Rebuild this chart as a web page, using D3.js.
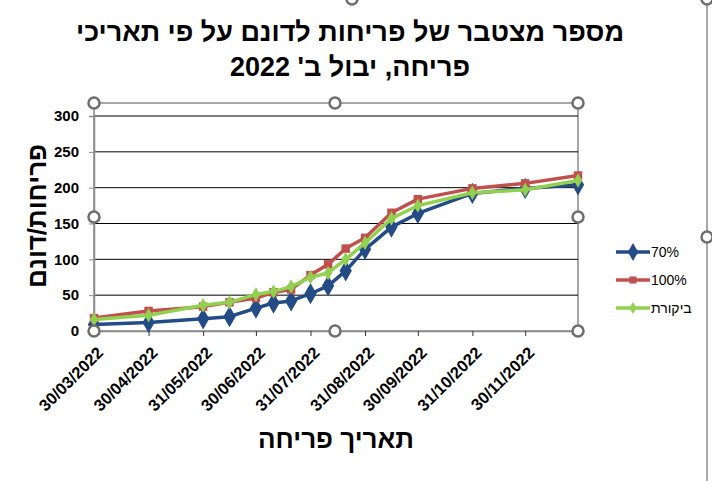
<!DOCTYPE html>
<html>
<head>
<meta charset="utf-8">
<script src="https://cdn.jsdelivr.net/npm/d3@7/dist/d3.min.js"></script>
<style>
  body { margin: 0; background: #fff; }
  text { font-family: "Liberation Sans", Arial, sans-serif; }
</style>
</head>
<body>
<div id="chart"></div>
<script>
// data
var dates = ["30/03/2022","30/04/2022","31/05/2022","15/06/2022","30/06/2022","10/07/2022","20/07/2022",
  "31/07/2022","10/08/2022","20/08/2022","31/08/2022","15/09/2022","30/09/2022","31/10/2022","30/11/2022","30/12/2022"];
var s70  = [9, 12, 17, 20, 32, 39, 42, 52, 63, 84, 114, 145, 164, 192, 199, 204];
var s100 = [18, 28, 34, 40, 46, 54, 58, 78, 93, 115, 130, 165, 184, 199, 206, 217];
var sCtl = [16, 22, 36, 40, 51, 55, 62, 75, 81, 100, 123, 157, 175, 193, 197, 210];
var seriesNames = ["70%", "100%", "ביקורת"];
var tickLabels = ["30/03/2022","30/04/2022","31/05/2022","30/06/2022","31/07/2022","31/08/2022","30/09/2022","31/10/2022","30/11/2022"];
var yTicks = [0, 50, 100, 150, 200, 250, 300];
var titleLines = ["מספר מצטבר של פריחות לדונם על פי תאריכי", "פריחה, יבול ב' 2022"];
var yTitle = "פריחות/דונם";
var xTitle = "תאריך פריחה";

var width = 712, height = 481;
var plot = {left: 94, right: 578, top: 103, bottom: 331};

var parse = d3.timeParse("%d/%m/%Y");
var fmt = d3.timeFormat("%d/%m/%Y");

var svg = d3.select("#chart").append("svg")
    .attr("width", width)
    .attr("height", height);

var x = d3.scaleTime()
    .domain([parse(dates[0]), parse(dates[dates.length - 1])])
    .range([plot.left, plot.right]);

var y = d3.scaleLinear()
    .domain([0, 300])
    .range([plot.bottom, 116]);

// chart area border (right side, selected)
svg.append("line")
    .attr("x1", 707).attr("x2", 707).attr("y1", 0).attr("y2", height)
    .attr("stroke", "#8a8a8a").attr("stroke-width", 1.5);

// plot area frame (selection)
svg.append("rect")
    .attr("x", plot.left).attr("y", plot.top)
    .attr("width", plot.right - plot.left).attr("height", plot.bottom - plot.top)
    .attr("fill", "none").attr("stroke", "#8a8a8a").attr("stroke-width", 1.5);

// gridlines
svg.append("g").selectAll("line")
    .data(yTicks.slice(1))
    .enter().append("line")
    .attr("x1", plot.left).attr("x2", plot.right)
    .attr("y1", d => y(d)).attr("y2", d => y(d))
    .attr("stroke", "#000").attr("stroke-width", 1);

// y axis
var yAxis = svg.append("g")
    .attr("transform", `translate(${plot.left},0)`)
    .call(d3.axisLeft(y).tickValues(yTicks).tickSize(5).tickPadding(10));
yAxis.select(".domain").attr("stroke", "#8a8a8a").attr("stroke-width", 1.5);
yAxis.selectAll(".tick line").attr("stroke", "#8a8a8a");
yAxis.selectAll("text")
    .attr("font-size", "15px").attr("font-weight", "bold")
    .attr("font-family", "'Liberation Sans', Arial, sans-serif").attr("fill", "#000");

// x axis
var xAxis = svg.append("g")
    .attr("transform", `translate(0,${plot.bottom})`)
    .call(d3.axisBottom(x).tickValues(tickLabels.map(parse)).tickFormat(fmt).tickSize(5));
xAxis.select(".domain").attr("stroke", "#8a8a8a").attr("stroke-width", 1.5);
xAxis.selectAll(".tick line").attr("stroke", "#333");
xAxis.selectAll("text")
    .attr("font-size", "16.5px").attr("font-weight", "bold")
    .attr("font-family", "'Liberation Sans', Arial, sans-serif").attr("fill", "#000")
    .attr("text-anchor", "end")
    .attr("dy", "0.35em")
    .attr("transform", "translate(0,13) rotate(-45)");

// series
var series = [
  {name: seriesNames[0], values: s70, color: "#234C87", shape: d3.symbolDiamond, size: 130},
  {name: seriesNames[1], values: s100, color: "#C0504D", shape: d3.symbolSquare, size: 72},
  {name: seriesNames[2], values: sCtl, color: "#92D050", shape: d3.symbolDiamond, size: 60}
];

var line = d3.line()
    .x((d, i) => x(parse(dates[i])))
    .y(d => y(d));

series.forEach(function(s) {
  var g = svg.append("g");
  g.append("path")
      .datum(s.values)
      .attr("d", line)
      .attr("fill", "none")
      .attr("stroke", s.color)
      .attr("stroke-width", 3.5)
      .attr("stroke-linejoin", "round");
  g.selectAll("path.m")
      .data(s.values)
      .enter().append("path")
      .attr("class", "m")
      .attr("d", d3.symbol().type(s.shape).size(s.size))
      .attr("transform", (d, i) => `translate(${x(parse(dates[i]))},${y(d)})`)
      .attr("fill", s.color);
});

// legend
var legend = svg.append("g");
series.forEach(function(s, i) {
  var ly = 252 + i * 28;
  legend.append("line")
      .attr("x1", 616).attr("x2", 650).attr("y1", ly).attr("y2", ly)
      .attr("stroke", s.color).attr("stroke-width", 3.5);
  legend.append("path")
      .attr("d", d3.symbol().type(s.shape).size(s.size * 0.7))
      .attr("transform", `translate(633,${ly})`)
      .attr("fill", s.color);
  legend.append("text")
      .attr("x", 651).attr("y", ly)
      .attr("dy", "0.35em")
      .attr("font-size", "14px")
      .attr("fill", "#000")
      .text(s.name);
});

// titles
svg.append("g").selectAll("text")
    .data(titleLines)
    .enter().append("text")
    .attr("x", 350).attr("y", (d, i) => 41 + i * 35)
    .attr("text-anchor", "middle")
    .attr("font-size", "27px").attr("font-weight", "bold")
    .attr("fill", "#000")
    .text(d => d);

svg.append("text")
    .attr("transform", "translate(46,216) rotate(-90)")
    .attr("text-anchor", "middle")
    .attr("font-size", "26px").attr("font-weight", "bold")
    .attr("fill", "#000")
    .text(yTitle);

svg.append("text")
    .attr("x", 336).attr("y", 448)
    .attr("text-anchor", "middle")
    .attr("font-size", "26px").attr("font-weight", "bold")
    .attr("fill", "#000")
    .text(xTitle);

// selection handles
var handles = [[plot.left, plot.top], [335, plot.top], [plot.right, plot.top],
  [plot.left, 217], [plot.right, 217],
  [plot.left, plot.bottom], [335, plot.bottom], [plot.right, plot.bottom],
  [352, -1], [707, -1], [707, 237]];
svg.append("g").selectAll("circle")
    .data(handles)
    .enter().append("circle")
    .attr("cx", d => d[0]).attr("cy", d => d[1])
    .attr("r", 5.5)
    .attr("fill", "#fff")
    .attr("stroke", "#6e6e6e")
    .attr("stroke-width", 2.5);
</script>
</body>
</html>
